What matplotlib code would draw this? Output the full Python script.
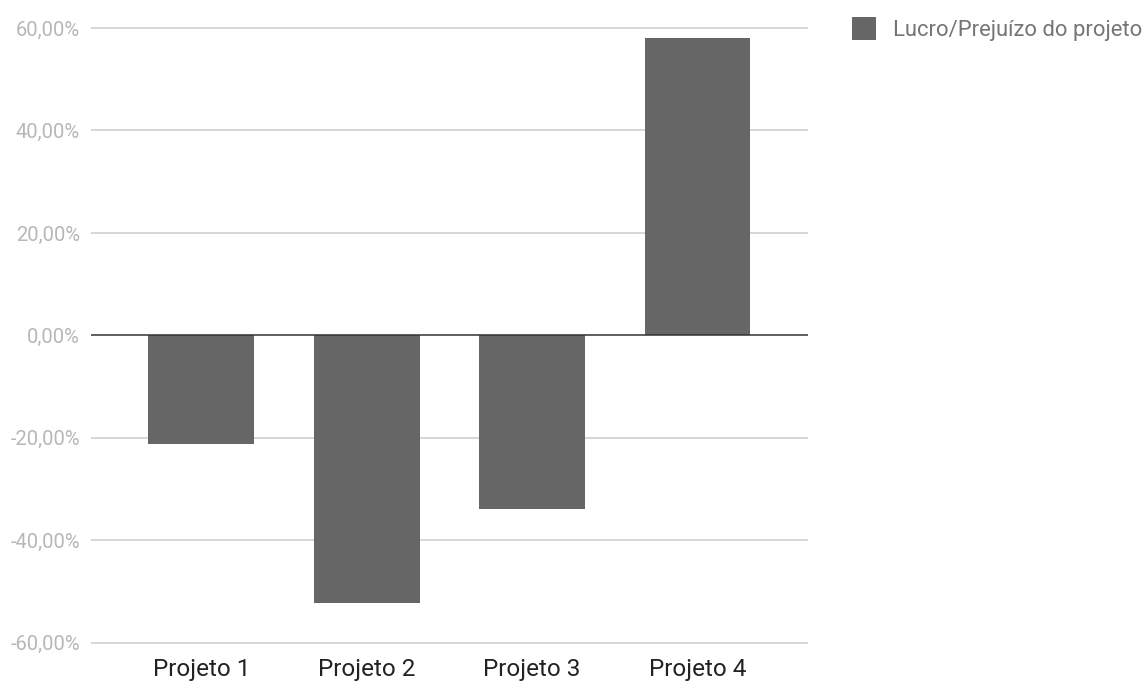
import numpy as np
import matplotlib.pyplot as plt
from matplotlib.ticker import FuncFormatter, FixedLocator

plt.rcParams["font.family"] = ["Roboto", "DejaVu Sans"]

# project results (% profit / loss)
projects = ["Projeto 1", "Projeto 2", "Projeto 3", "Projeto 4"]
results = [-21.3, -52.2, -33.9, 58.1]
y_ticks = [-60, -40, -20, 0, 20, 40, 60]
series_name = "Lucro/Prejuízo do projeto"

BAR_COLOR = "#666666"
GRID_COLOR = "#cccccc"
TICK_COLOR = "#b7b7b7"

fig = plt.figure(figsize=(11.44, 6.82), dpi=100)
fig.patch.set_facecolor("white")

# axes box in pixels: x 90.7 -> 808, y (top) 22.9 -> 647.8
W, H = 1144, 682
ax = fig.add_axes([90.7 / W, (H - 647.8) / H, (808 - 90.7) / W, (647.8 - 22.9) / H])

x = np.arange(len(projects))
ax.bar(x, results, width=0.64, color=BAR_COLOR, label=series_name, zorder=2)

ax.set_xlim(-0.669, 3.668)
ax.set_ylim(-61, 61)

# horizontal gridlines and dark baseline
for t in y_ticks:
    if t == 0:
        ax.axhline(t, color="#333333", linewidth=1.1, zorder=3)
    else:
        ax.axhline(t, color=GRID_COLOR, linewidth=1.1, zorder=1)

ax.yaxis.set_major_locator(FixedLocator(y_ticks))
ax.yaxis.set_major_formatter(FuncFormatter(lambda v, p: f"{v:.2f}%".replace(".", ",")))
ax.tick_params(axis="y", length=0, pad=7.7, labelsize=14.5, labelcolor=TICK_COLOR)

ax.set_xticks(x)
ax.set_xticklabels(projects)
ax.tick_params(axis="x", length=0, pad=7.5, labelsize=17.5, labelcolor="#222222")

for spine in ax.spines.values():
    spine.set_visible(False)

leg = ax.legend(
    loc="upper left",
    bbox_to_anchor=(852 / W, 1 - 16.5 / H),
    bbox_transform=fig.transFigure,
    frameon=False,
    handlelength=1.1,
    handleheight=1.3,
    handletextpad=0.75,
    fontsize=15.8,
    borderpad=0,
    borderaxespad=0,
)
for txt in leg.get_texts():
    txt.set_color("#757575")

fig.savefig("out.png", dpi=100, facecolor="white")
